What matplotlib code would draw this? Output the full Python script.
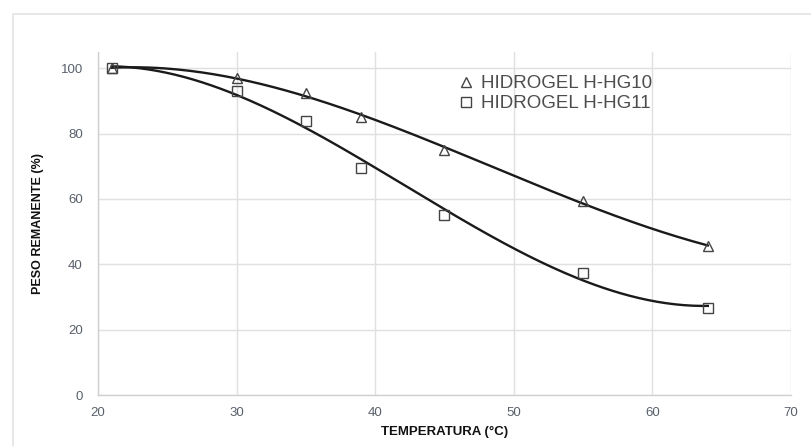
import numpy as np
import matplotlib
matplotlib.use("Agg")
import matplotlib.pyplot as plt
from matplotlib.patches import Rectangle

temp = [21, 30, 35, 39, 45, 55, 64]
hg10 = [100, 97, 92.5, 85, 75, 59.5, 45.5]
hg11 = [100, 93, 84, 69.5, 55, 37.5, 26.5]
labels = ["HIDROGEL H-HG10", "HIDROGEL H-HG11"]
xticks = [20, 30, 40, 50, 60, 70]
yticks = [0, 20, 40, 60, 80, 100]

plt.rcParams['font.family'] = ['Liberation Sans', 'DejaVu Sans']

fig = plt.figure(figsize=(8.12, 4.46), dpi=100)
fig.patches.append(Rectangle((13/812, -0.1), 1.2, 1 - 14/446 + 0.1,
                             transform=fig.transFigure, fill=False,
                             edgecolor='#e3e3e3', linewidth=1.2, zorder=0))
ax = fig.add_axes([98/812, 1 - 395/446, 693/812, 343/446])

xs = np.linspace(min(temp), max(temp), 200)
for ys in (hg10, hg11):
    c = np.polyfit(temp, ys, 3)
    ax.plot(xs, np.polyval(c, xs), color='#1a1a1a', lw=1.7, zorder=3)

ax.plot(temp, hg10, linestyle='none', marker='^', markersize=7,
        markerfacecolor='none', markeredgecolor='#444444', markeredgewidth=1.0,
        label=labels[0], zorder=4)
ax.plot(temp, hg11, linestyle='none', marker='s', markersize=7.5,
        markerfacecolor='none', markeredgecolor='#444444', markeredgewidth=1.0,
        label=labels[1], zorder=4)

ax.set_xlim(20, 70)
ax.set_ylim(0, 105)
ax.set_xticks(xticks)
ax.set_yticks(yticks)
ax.grid(True, color='#e0e0e0', linewidth=1.0)
ax.set_axisbelow(True)
for s in ('top', 'right'):
    ax.spines[s].set_visible(False)
for s in ('left', 'bottom'):
    ax.spines[s].set_color('#d0d0d0')
    ax.spines[s].set_linewidth(1.0)
ax.tick_params(length=0, labelsize=9.5, labelcolor='#59606b')
ax.tick_params(axis='x', pad=9)
ax.tick_params(axis='y', pad=11)

ax.set_xlabel("TEMPERATURA (°C)", fontsize=9.5, fontweight='bold', color='#111111', labelpad=5)
ax.set_ylabel("PESO REMANENTE (%)", fontsize=9, fontweight='bold', color='#111111', labelpad=12)

leg = ax.legend(loc='upper left', bbox_to_anchor=(0.505, 0.96), frameon=False,
                handlelength=0.9, handletextpad=0.35, labelspacing=0.15,
                borderpad=0, fontsize=13.5)
for t in leg.get_texts():
    t.set_color('#4d4d4d')

fig.savefig("out.png", dpi=100)
